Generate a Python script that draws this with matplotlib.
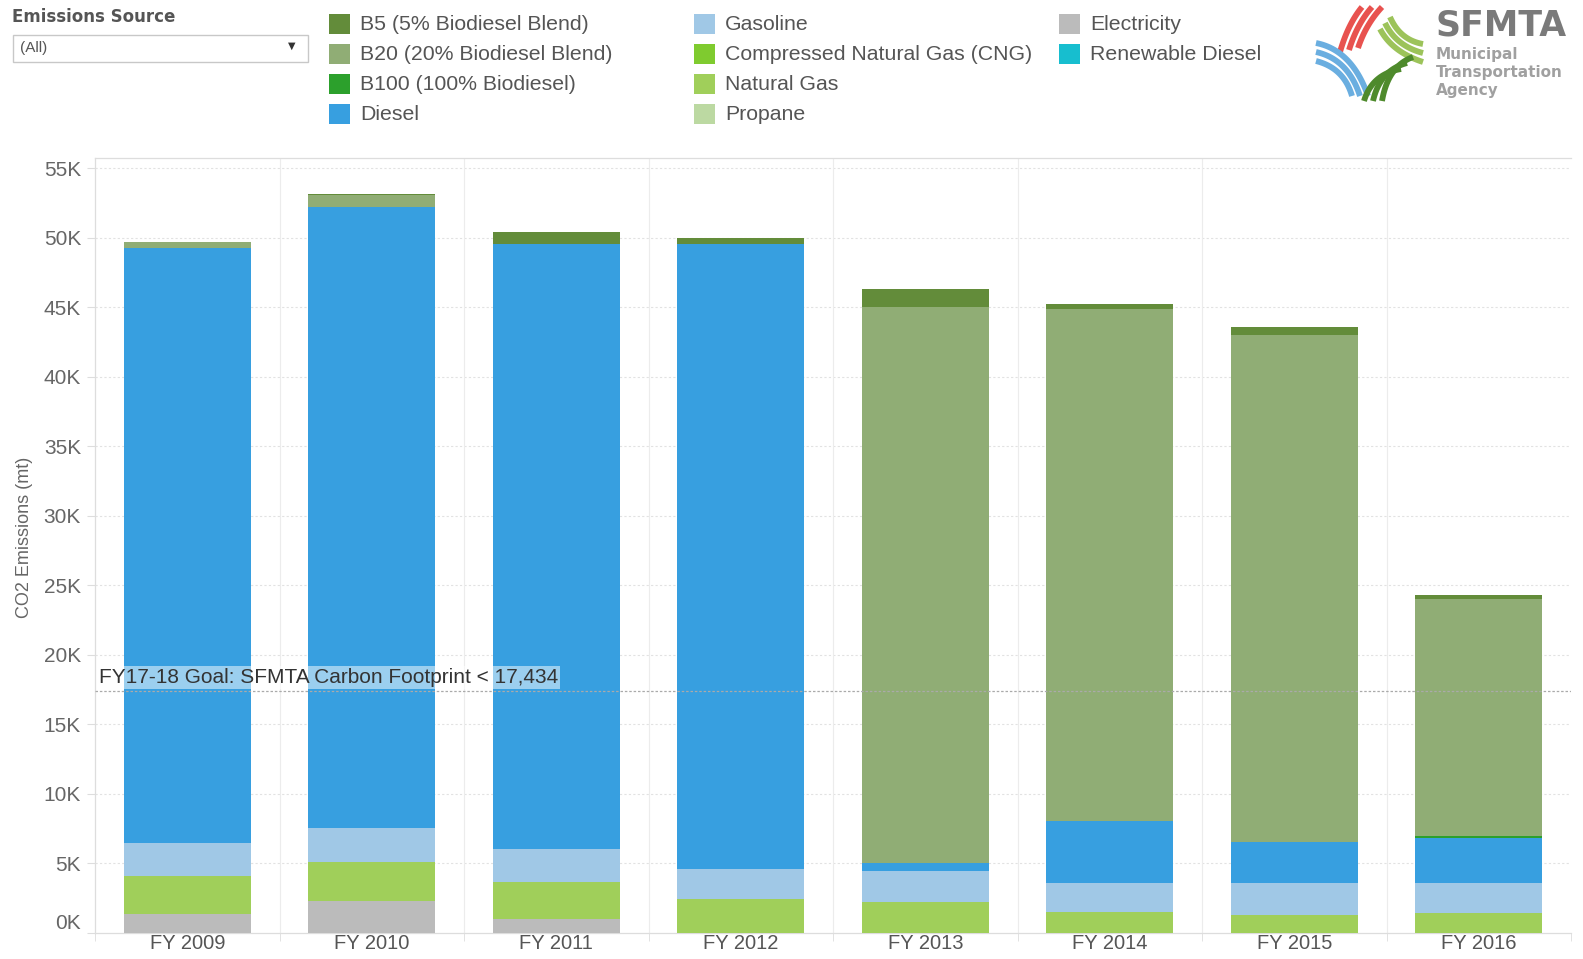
import numpy as np
import matplotlib
matplotlib.use("Agg")
import matplotlib.pyplot as plt
from matplotlib.patches import Rectangle
from matplotlib.lines import Line2D

plt.rcParams['font.family'] = ['Liberation Sans', 'DejaVu Sans']

years = ["FY 2009", "FY 2010", "FY 2011", "FY 2012", "FY 2013", "FY 2014", "FY 2015", "FY 2016"]

# Emissions (metric tons CO2) by source
electricity = [1350, 2300, 980, 0, 0, 0, 0, 0]
natural_gas = [2770, 2830, 2710, 2420, 2250, 1530, 1290, 1410]
gasoline    = [2330, 2400, 2330, 2160, 2230, 2040, 2280, 2160]
diesel      = [42850, 44720, 43550, 45000, 580, 4510, 3000, 3290]
b100        = [0, 0, 0, 0, 0, 0, 0, 120]
b20         = [400, 850, 0, 0, 39940, 36820, 36430, 17070]
b5          = [0, 80, 830, 430, 1300, 350, 600, 250]
cng         = [0, 0, 0, 0, 0, 0, 0, 0]
propane     = [0, 0, 0, 0, 0, 0, 0, 0]
renewable   = [0, 0, 0, 0, 0, 0, 0, 0]

goal_value = 17434
goal_label = "FY17-18 Goal: SFMTA Carbon Footprint < 17,434"

colors = {
    "B5 (5% Biodiesel Blend)": "#638c3a",
    "B20 (20% Biodiesel Blend)": "#90ad75",
    "B100 (100% Biodiesel)": "#2ca02c",
    "Diesel": "#379fe0",
    "Gasoline": "#a0c8e6",
    "Compressed Natural Gas (CNG)": "#7fcb2f",
    "Natural Gas": "#a0cf5a",
    "Propane": "#bcd9a2",
    "Electricity": "#bbbbbb",
    "Renewable Diesel": "#17becf",
}

# stacking order bottom -> top
stack = [
    ("Electricity", electricity),
    ("Natural Gas", natural_gas),
    ("Compressed Natural Gas (CNG)", cng),
    ("Propane", propane),
    ("Gasoline", gasoline),
    ("Diesel", diesel),
    ("Renewable Diesel", renewable),
    ("B100 (100% Biodiesel)", b100),
    ("B20 (20% Biodiesel Blend)", b20),
    ("B5 (5% Biodiesel Blend)", b5),
]

W, H = 1583, 959
fig = plt.figure(figsize=(W / 100, H / 100), dpi=100)

def fx(px):
    return np.asarray(px) / W

def fy(py):
    return 1 - np.asarray(py) / H

ax = fig.add_axes([fx(95), fy(933), fx(1571) - fx(95), fy(158) - fy(933)])
x = np.arange(len(years))
bottom = np.zeros(len(years))
for name, vals in stack:
    v = np.array(vals, dtype=float)
    ax.bar(x, v, bottom=bottom, width=0.69, color=colors[name], linewidth=0, zorder=3)
    bottom += v

ax.set_xlim(-0.5, len(years) - 0.5)
ax.set_ylim(0, 55750)
yt = np.arange(0, 55001, 5000)
ax.set_yticks(yt)
ax.set_yticklabels([f"{int(v/1000)}K" for v in yt], fontsize=15, color="#666666")
ylabels = ax.get_yticklabels()
ylabels[0].set_va("bottom")
ax.set_xticks(x)
ax.set_xticklabels(years, fontsize=14.5, color="#555555")
ax.tick_params(axis='x', length=0, pad=1)
ax.tick_params(axis='y', length=6, color="#dddddd", pad=4)
ax.set_xticks(np.arange(-0.5, len(years), 1), minor=True)
ax.tick_params(axis='x', which='minor', length=6, color="#dddddd")

for yv in yt[1:]:
    ax.axhline(yv, color="#e2e2e2", lw=0.8, ls=(0, (2, 2)), zorder=1)
for b in np.arange(0.5, len(years) - 0.5, 1):
    ax.axvline(b, color="#ececec", lw=0.8, zorder=1)

for s in ["left", "bottom", "top"]:
    ax.spines[s].set_color("#dddddd")
    ax.spines[s].set_linewidth(0.9)
ax.spines["right"].set_visible(False)

# goal line
ax.axhline(goal_value, color="#aaaaaa", lw=0.9, ls=(0, (2, 1.5)), zorder=4)
ax.text(-0.478, goal_value + 250, goal_label, fontsize=15, color="#333333",
        va="bottom", ha="left", zorder=5,
        bbox=dict(boxstyle="square,pad=0.1", facecolor="white", alpha=0.5, edgecolor="none"))

fig.text(fx(25), fy(537), "CO2 Emissions (mt)", rotation=90, fontsize=13,
         color="#666666", ha="center", va="center")

# filter box
fig.text(fx(12), fy(17), "Emissions Source", fontsize=12, color="#555555",
         ha="left", va="center", fontweight="bold", family=['DejaVu Sans'])
fig.patches.append(Rectangle((fx(13), fy(62)), fx(308) - fx(13), fy(35) - fy(62),
                             transform=fig.transFigure, facecolor="white",
                             edgecolor="#c8c8c8", lw=1))
fig.text(fx(20), fy(48), "(All)", fontsize=11, color="#555555", ha="left", va="center")
fig.text(fx(292), fy(46), "\u25bc", fontsize=7, color="#333333", ha="center", va="center",
         family=['DejaVu Sans'])

# legend
legend_cols = [
    ["B5 (5% Biodiesel Blend)", "B20 (20% Biodiesel Blend)", "B100 (100% Biodiesel)", "Diesel"],
    ["Gasoline", "Compressed Natural Gas (CNG)", "Natural Gas", "Propane"],
    ["Electricity", "Renewable Diesel"],
]
col_x = [329, 694, 1059]
for cx, names in zip(col_x, legend_cols):
    for i, name in enumerate(names):
        cy = 24 + 30 * i
        fig.patches.append(Rectangle((fx(cx), fy(cy + 10)), fx(21), fy(0) - fy(20),
                                     transform=fig.transFigure, facecolor=colors[name],
                                     edgecolor="none"))
        fig.text(fx(cx + 31), fy(cy + 1), name, fontsize=15.3, color="#555555",
                 ha="left", va="center")

# logo
def bez(p0, p1, p2, n=30):
    t = np.linspace(0, 1, n)[:, None]
    p0, p1, p2 = map(np.array, (p0, p1, p2))
    return (1 - t) ** 2 * p0 + 2 * (1 - t) * t * p1 + t ** 2 * p2

def stripe(p0, p1, p2, color, lw=4.2):
    pts = bez(p0, p1, p2)
    fig.lines.append(Line2D(fx(pts[:, 0]), fy(pts[:, 1]), transform=fig.transFigure,
                            color=color, lw=lw, solid_capstyle="butt"))

red = "#e8524f"
blue = "#6aaee0"
lgreen = "#9cc35a"
dgreen = "#4e8a2c"
for k in range(3):
    stripe((1340 + 9 * k, 52 - 2 * k), (1348 + 9 * k, 24), (1362 + 10 * k, 7), red)
for k in range(3):
    stripe((1316, 43 + 9 * k), (1352 - 4 * k, 50 + 9 * k), (1368 - 8 * k, 96), blue)
for k in range(3):
    stripe((1390 - 5 * k, 17 + 6 * k), (1400 - 4 * k, 40 + 6 * k), (1423, 44 + 9 * k), lgreen)
for k in range(3):
    stripe((1413 - 6 * k, 57 + 6 * k), (1388 - 8 * k, 66 + 4 * k), (1382 - 9 * k, 101), dgreen)

fig.text(fx(1435), fy(25), "SFMTA", fontsize=25, fontweight="bold", color="#7a7a7a",
         ha="left", va="center", family=['DejaVu Sans'])
for i, t in enumerate(["Municipal", "Transportation", "Agency"]):
    fig.text(fx(1436), fy(54 + 18 * i), t, fontsize=11, fontweight="bold",
             color="#a0a0a0", ha="left", va="center", family=['DejaVu Sans'])

fig.savefig("out.png", dpi=100, facecolor="white")
